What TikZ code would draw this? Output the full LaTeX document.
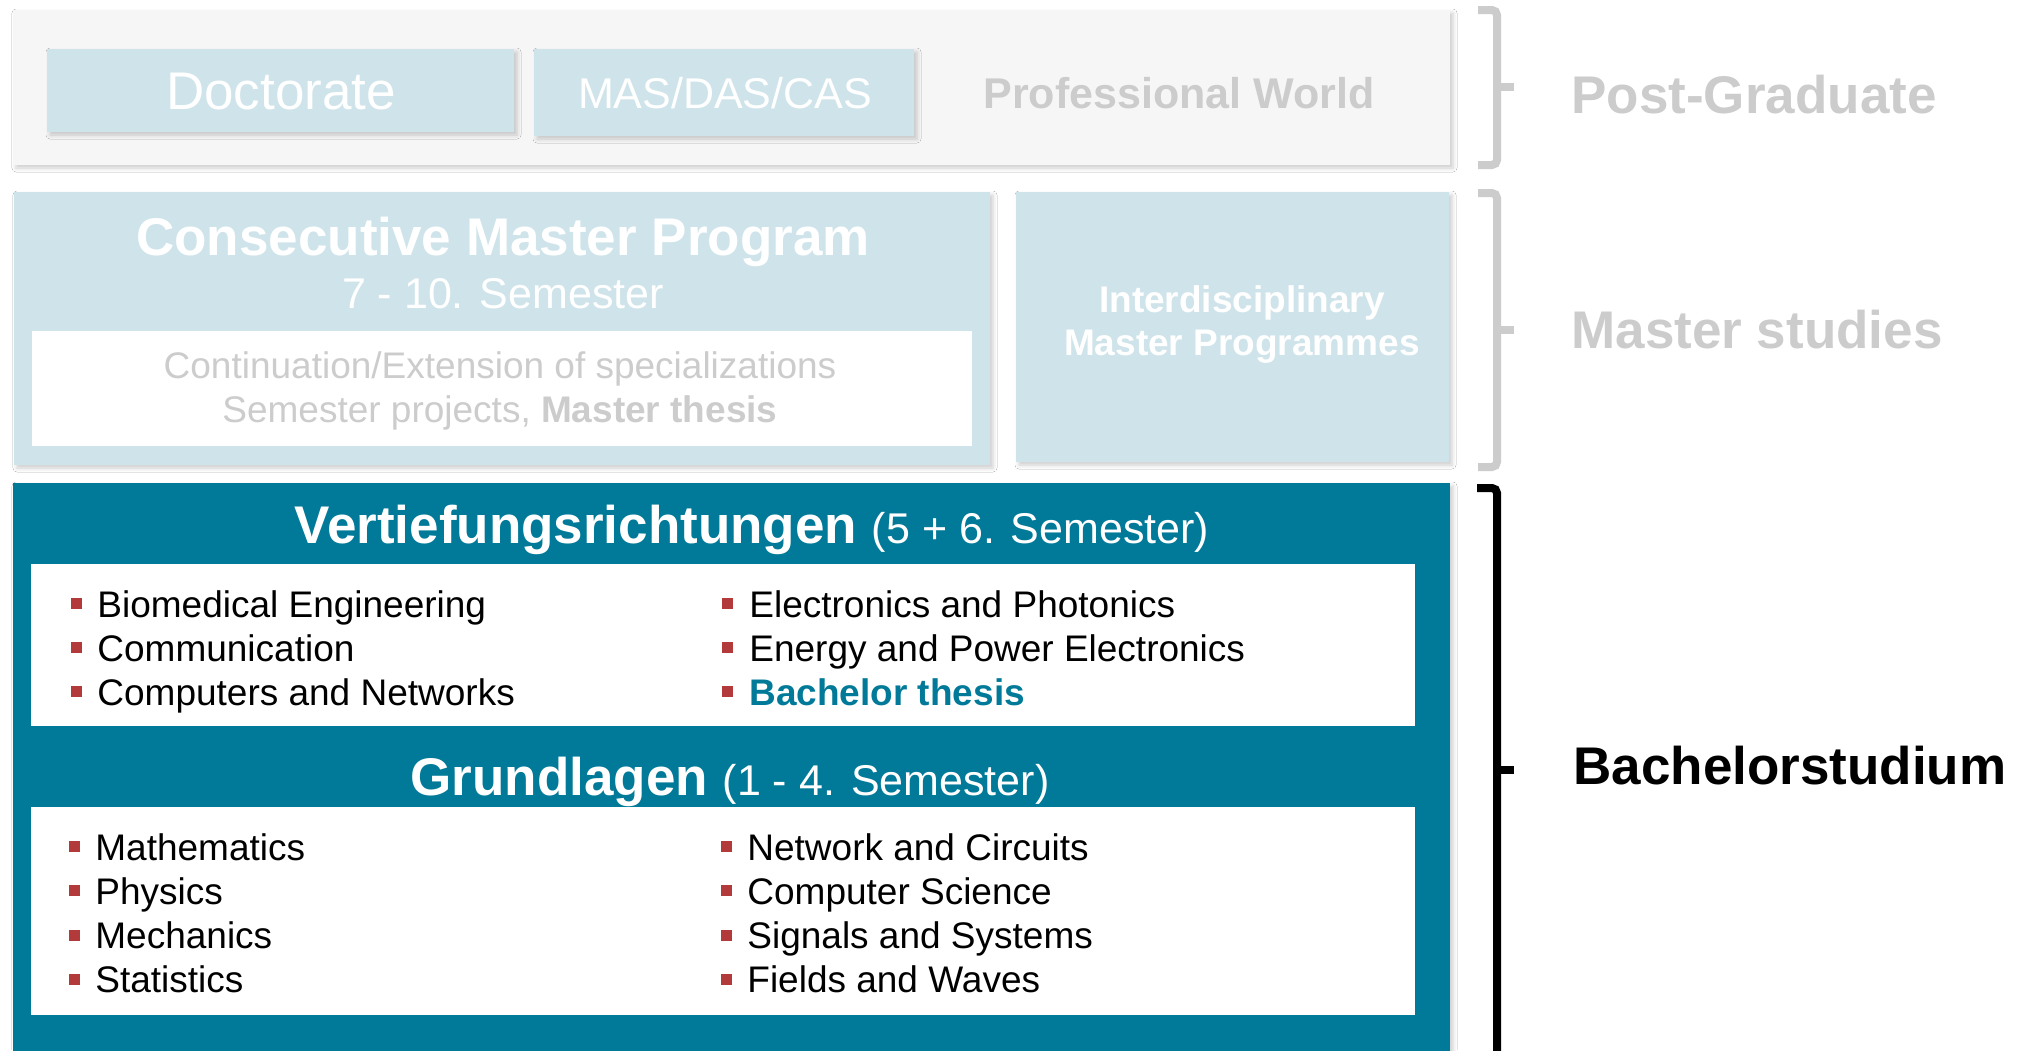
\documentclass[tikz,border=0pt]{standalone}
\usepackage{fontspec}
\setmainfont{Liberation Sans}
\usetikzlibrary{shadows.blur}
\definecolor{paleblue}{HTML}{CFE4EA}
\definecolor{palegray}{HTML}{F6F6F6}
\definecolor{fadedtext}{HTML}{CCCCCC}
\definecolor{hsteal}{HTML}{007A98}
\definecolor{bulletred}{HTML}{B23A3A}
\begin{document}
\begin{tikzpicture}[x=0.5pt, y=-0.5pt,
   every node/.style={inner sep=0pt, anchor=base},
   huge/.style={font=\fontsize{26.5pt}{30pt}\selectfont},
   large/.style={font=\fontsize{21.5pt}{25pt}\selectfont},
   normal/.style={font=\fontsize{18.5pt}{22pt}\selectfont},
   item/.style={normal, anchor=base west},
   bullet/.style={fill=bulletred, minimum size=5.5pt, anchor=center},
   panel/.style={blur shadow={shadow xshift=1.5pt, shadow yshift=-1.5pt,
                 shadow blur radius=2pt, shadow opacity=20}},
   brace/.style={line width=4pt, rounded corners=2.5pt}]

\useasboundingbox (0,0) rectangle (2023,1050);
\fill[white] (0,0) rectangle (2023,1050);

% post-graduate
\fill[palegray, panel] (13,10) rectangle (1450,165);
\fill[paleblue, panel] (47,49) rectangle (514,132);
\fill[paleblue, panel] (534,49) rectangle (914,136);
\node[huge, white] (doc) at (281,109) {Doctorate};
\node[large, white] (mas) at (725,108) {MAS/DAS/CAS};
\node[large, fadedtext] (prof) at (1179,108) {\bfseries Professional World};

% master
\fill[paleblue, panel] (14,192) rectangle (990,465);
\fill[white] (32,331) rectangle (972,446);
\fill[paleblue, panel] (1016,192) rectangle (1449,462);
\node[huge, white] (cmp) at (503,255) {\bfseries Consecutive Master Program};
\node[large, white] (cmpsem) at (503,308) {7 - 10. Semester};
\node[normal, fadedtext] (cont) at (500,378) {Continuation/Extension of specializations};
\node[normal, fadedtext] (proj) at (500,422) {Semester projects, \textbf{Master thesis}};
\node[normal, white] (imp) at (1242,312) {\bfseries Interdisciplinary};
\node[normal, white] (imp2) at (1242,355) {\bfseries Master Programmes};

% bachelor
\fill[hsteal, panel] (13,483) rectangle (1450,1060);
\fill[white] (31,564) rectangle (1415,726);
\fill[white] (31,807) rectangle (1415,1015);
\node[huge, white] (vert) at (752,543)
   {\bfseries Vertiefungsrichtungen {\mdseries\fontsize{21.5pt}{25pt}\selectfont (5 + 6. Semester)}};
\node[huge, white] (grund) at (730,795)
   {\bfseries Grundlagen {\mdseries\fontsize{21.5pt}{25pt}\selectfont (1 - 4. Semester)}};

\foreach \lft/\rgt [count=\n] in {Biomedical Engineering/Electronics and Photonics,
      Communication/Energy and Power Electronics,
      Computers and Networks/{\color{hsteal}\bfseries Bachelor thesis}}
  {\node[bullet] (vlb\n) at (76,603.5+44*\n-44) {};
   \node[item] (vl\n) at (97,617+44*\n-44) {\lft};
   \node[bullet] (vrb\n) at (727.5,603.5+44*\n-44) {};
   \node[item] (vr\n) at (749,617+44*\n-44) {\rgt};}

\foreach \lft/\rgt [count=\n] in {Mathematics/Network and Circuits,
      Physics/Computer Science, Mechanics/Signals and Systems,
      Statistics/Fields and Waves}
  {\node[bullet] (glb\n) at (74,846.5+44.3*\n-44.3) {};
   \node[item] (gl\n) at (95,860+44.3*\n-44.3) {\lft};
   \node[bullet] (grb\n) at (726.5,846.5+44.3*\n-44.3) {};
   \node[item] (gr\n) at (747,860+44.3*\n-44.3) {\rgt};}

% brackets
\draw[brace, fadedtext] (1478,10) -- (1497,10) -- (1497,165) -- (1478,165);
\draw[brace, fadedtext] (1497,87) -- (1514,87);
\draw[brace, fadedtext] (1478,193) -- (1497,193) -- (1497,467) -- (1478,467);
\draw[brace, fadedtext] (1497,330) -- (1514,330);
\draw[brace, black] (1477,488) -- (1497,488) -- (1497,1060);
\draw[brace, black] (1497,770) -- (1514,770);
\node[huge, fadedtext, anchor=base west] (pg) at (1571,113) {\bfseries Post-Graduate};
\node[huge, fadedtext, anchor=base west] (ms) at (1571,348) {\bfseries Master studies};
\node[huge, black, anchor=base west] (bs) at (1573,784) {\bfseries Bachelorstudium};

\end{tikzpicture}
\end{document}
